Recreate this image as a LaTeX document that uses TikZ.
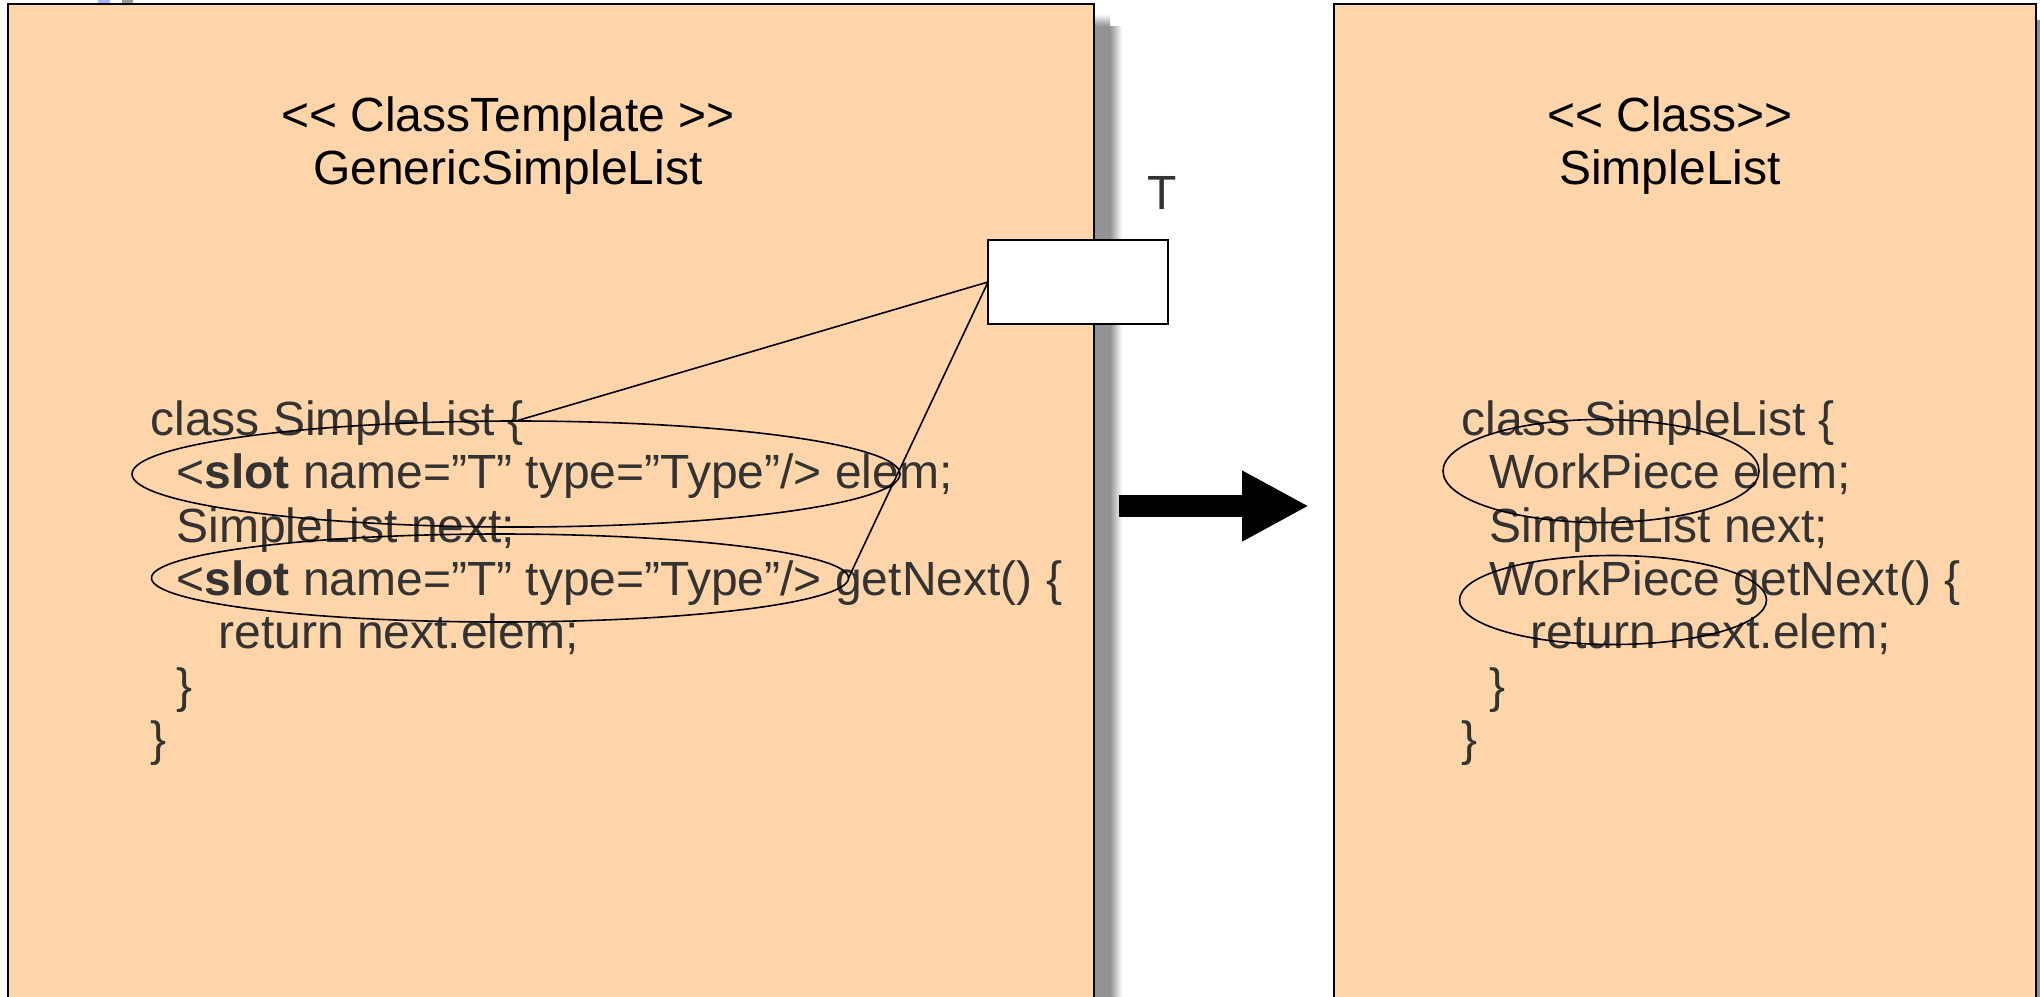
\documentclass[tikz,border=0pt]{standalone}
\usepackage{fontspec}
\setmainfont{Liberation Sans}
\usetikzlibrary{shapes.geometric,arrows.meta}
\definecolor{peach}{HTML}{FFD5A9}
\definecolor{codegray}{HTML}{333333}
\definecolor{shadowgray}{HTML}{939393}
\definecolor{chipblue}{HTML}{AAB0FF}
\definecolor{chipgray}{HTML}{999999}
\tikzset{
  classbox/.style={rectangle, draw=black, line width=0.9pt, fill=peach, inner sep=0pt, outer sep=0pt},
  slotbox/.style={rectangle, draw=black, line width=0.9pt, fill=white, inner sep=0pt, outer sep=0pt,
                  minimum width=90pt, minimum height=42pt},
  titletext/.style={anchor=base, inner sep=0pt, text=black},
  codeline/.style={anchor=base west, inner sep=0pt, text=codegray},
  ring/.style={ellipse, draw=black, line width=0.8pt, inner sep=0pt, outer sep=0pt},
  link/.style={draw=black, line width=0.8pt},
}
\begin{document}
\begin{tikzpicture}[x=0.5pt, y=-0.5pt, font=\fontsize{24}{26.7}\selectfont]
\useasboundingbox (0,0) rectangle (2040,996);
\clip (0,0) rectangle (2040,996);

% small tabs peeking over the top edge
\fill[chipblue] (98,0) rectangle (110,3);
\fill[chipgray] (122,0) rectangle (133,3);

% drop shadows
\fill[shadowgray] (1094,26) rectangle (1110,1000);
\shade[left color=shadowgray, right color=white] (1110,26) rectangle (1122,1000);
\shade[top color=white, bottom color=shadowgray] (1094,14) rectangle (1110,26);
\fill[shadowgray] (2036,20) rectangle (2040,1000);

% the two class boxes
\node[classbox, minimum width=543pt, minimum height=548pt] (tmpl) at (551,552) {};
\node[classbox, minimum width=351pt, minimum height=548pt] (inst) at (1685,552) {};

% template box
\node[titletext] (tmplstereo) at (508,131) {<{}< ClassTemplate >{}>};
\node[titletext] (tmplname)   at (508,184) {GenericSimpleList};

\node[codeline] (l1) at (150,435) {class SimpleList \{};
\node[codeline] (l2) at (176,488) {<\textbf{slot} name=”T” type=”Type”/> elem;};
\node[codeline] (l3) at (176,542) {SimpleList next;};
\node[codeline] (l4) at (176,595) {<\textbf{slot} name=”T” type=”Type”/> getNext() \{};
\node[codeline] (l5) at (218,648) {return next.elem;};
\node[codeline] (l6) at (176,702) {\}};
\node[codeline] (l7) at (150,755) {\}};

\node[ring, minimum width=384pt, minimum height=53pt] (e1) at (516,474) {};
\node[ring, minimum width=348.5pt, minimum height=44pt] (e2) at (500,578) {};

% template parameter
\node[slotbox] (slot) at (1078,282) {};
\node[anchor=base, inner sep=0pt, text=codegray] (param) at (1162,209) {T};
\draw[link] (slot.west) -- (e1.north);
\draw[link] (slot.west) -- (e2.east);

% binding arrow
\coordinate (a0) at (1119,506);
\coordinate (a1) at (1309,506);
\draw[line width=11pt, -{Triangle[length=33.5pt,width=33pt]}] (a0) -- (a1);

% bound class box
\node[titletext] (inststereo) at (1670,131) {<{}< Class>{}>};
\node[titletext] (instname)   at (1670,184) {SimpleList};

\node[codeline] (r1) at (1461,435) {class SimpleList \{};
\node[codeline] (r2) at (1489,488) {WorkPiece elem;};
\node[codeline] (r3) at (1489,542) {SimpleList next;};
\node[codeline] (r4) at (1489,595) {WorkPiece getNext() \{};
\node[codeline] (r5) at (1530,648) {return next.elem;};
\node[codeline] (r6) at (1489,702) {\}};
\node[codeline] (r7) at (1461,755) {\}};

\node[ring, minimum width=158pt, minimum height=51.5pt] (f1) at (1601,471) {};
\node[ring, minimum width=153.5pt, minimum height=44.5pt] (f2) at (1613,600) {};
\end{tikzpicture}
\end{document}
